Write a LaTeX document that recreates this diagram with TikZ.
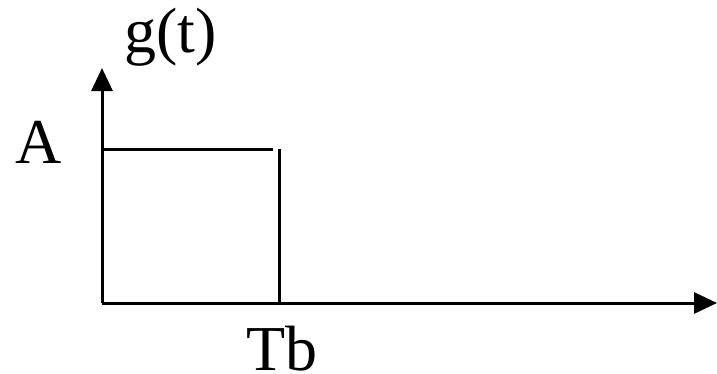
\documentclass[tikz,border=0pt]{standalone}
\usepackage{fontspec}
\setmainfont{Liberation Serif}
\usetikzlibrary{arrows.meta}
\begin{document}
\begin{tikzpicture}[x=1pt,y=1pt,
  axis/.style={line width=3pt,-{Triangle[length=23pt,width=21pt]}},
  sig/.style={line width=3pt},
  lbl/.style={inner sep=0pt,anchor=base west,font=\fontsize{64}{70}\selectfont}]
\useasboundingbox (0,0) rectangle (717,373);
\coordinate (O) at (102,70);
\coordinate (ytop) at (102,305);
\coordinate (xend) at (717,70);
\coordinate (pa) at (102,224);
\coordinate (pb) at (273,224);
\coordinate (ta) at (279,224);
\coordinate (tb) at (279,70);
\draw[axis] (O) -- (ytop);
\draw[axis] (O) -- (xend);
\draw[sig] (pa) -- (pb);
\draw[sig] (ta) -- (tb);
\node[lbl] (g) at (124,320) {g(t)};
\node[lbl] (A) at (15,210) {A};
\node[lbl] (T) at (246,3) {Tb};
\end{tikzpicture}
\end{document}
